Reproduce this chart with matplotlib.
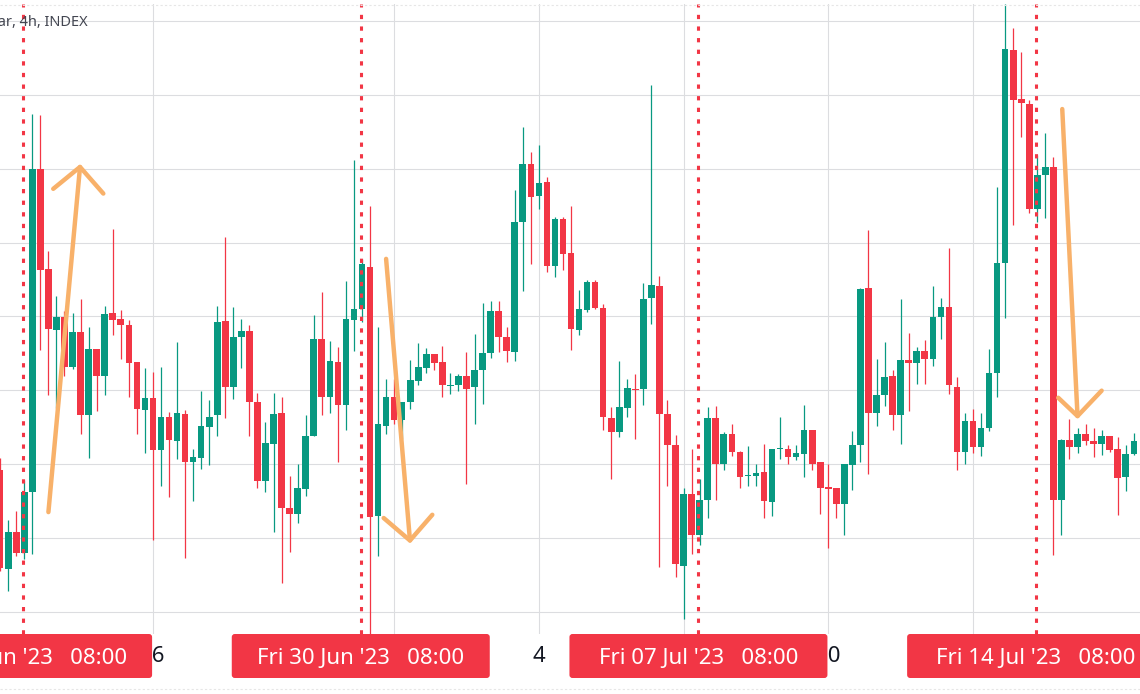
import numpy as np
import pandas as pd
import matplotlib
matplotlib.use("Agg")
import matplotlib.pyplot as plt
from matplotlib.patches import FancyBboxPatch
from matplotlib.transforms import IdentityTransform

plt.rcParams['font.family'] = ['Noto Sans', 'DejaVu Sans']

# 4h candles, first one visible at the left edge
start = "2023-06-22 20:00"

opens = [29981, 29645, 29772, 29700, 29905, 30999, 30660, 30453, 30497, 30329,
         30446, 30166, 30390, 30297, 30511, 30490, 30471, 30345, 30184, 30225,
         30048, 30160, 30077, 30170, 30008, 30022, 30126, 30166, 30486, 30260,
         30431, 30450, 30211, 29942, 30069, 30173, 29852, 29832, 29917, 30094,
         30423, 30229, 30345, 30200, 30488, 30525, 30667, 29825, 30128, 30229,
         30149, 30211, 30280, 30326, 30374, 30345, 30265, 30267, 30297, 30260,
         30318, 30377, 30519, 30430, 30381, 30819, 31015, 30909, 30954, 30670,
         30829, 30715, 30453, 30522, 30616, 30529, 30156, 30108, 30191, 30256,
         30253, 30561, 30602, 30170, 30066, 29656, 29898, 29760, 29880, 30156,
         30001, 30101, 30043, 29959, 29959, 29974, 29873, 30050, 30050, 30025,
         30036, 30115, 30007, 29924, 29919, 29866, 29997, 30066, 30595, 30173,
         30235, 30298, 30167, 30354, 30343, 30384, 30356, 30499, 30532, 30262,
         30043, 30146, 30057, 30122, 30308, 30681, 31403, 31236, 31220, 30865,
         30978, 31006, 29880, 30083, 30059, 30101, 30080, 30069, 30094, 30052,
         29956, 30035]
closes = [29649, 29769, 29700, 29907, 30999, 30656, 30457, 30497, 30329, 30446,
          30166, 30390, 30297, 30508, 30488, 30470, 30343, 30188, 30225, 30048,
          30160, 30083, 30173, 30007, 30025, 30128, 30160, 30483, 30260, 30431,
          30450, 30211, 29942, 30073, 30170, 29852, 29832, 29919, 30097, 30425,
          30229, 30348, 30200, 30490, 30525, 30677, 29820, 30135, 30229, 30149,
          30211, 30285, 30329, 30374, 30343, 30267, 30268, 30297, 30253, 30319,
          30377, 30519, 30430, 30384, 30819, 31017, 30906, 30953, 30670, 30829,
          30713, 30457, 30526, 30616, 30529, 30159, 30110, 30195, 30257, 30251,
          30559, 30605, 30170, 30064, 29662, 29898, 29762, 29880, 30156, 30001,
          30104, 30043, 29956, 29963, 29970, 29877, 30052, 30054, 30025, 30039,
          30115, 30001, 29921, 29917, 29866, 30000, 30066, 30594, 30173, 30235,
          30294, 30167, 30354, 30343, 30384, 30356, 30499, 30532, 30267, 30043,
          30146, 30057, 30124, 30308, 30681, 31406, 31233, 31222, 30865, 30978,
          31006, 29880, 30083, 30059, 30101, 30080, 30069, 30094, 30048, 29952,
          30035, 30080]
highs = [30022, 29811, 29843, 29945, 31185, 31181, 30722, 30568, 30519, 30511,
         30559, 30463, 30390, 30536, 30796, 30522, 30488, 30345, 30325, 30311,
         30329, 30177, 30412, 30184, 30050, 30249, 30218, 30536, 30768, 30533,
         30492, 30471, 30242, 30142, 30242, 30229, 29959, 30001, 30166, 30504,
         30584, 30416, 30398, 30619, 31030, 30695, 30874, 30463, 30290, 30287,
         30211, 30352, 30409, 30394, 30374, 30401, 30308, 30304, 30381, 30442,
         30546, 30553, 30553, 30463, 30927, 31140, 31058, 31082, 30971, 30837,
         30837, 30874, 30591, 30622, 30624, 30543, 30193, 30350, 30287, 30305,
         30615, 31285, 30637, 30218, 30098, 29921, 30052, 29949, 30195, 30198,
         30108, 30135, 30046, 30062, 30001, 30069, 30052, 30160, 30064, 30066,
         30200, 30115, 30007, 30000, 29919, 30000, 30112, 30597, 30794, 30356,
         30412, 30318, 30559, 30443, 30398, 30419, 30602, 30561, 30732, 30294,
         30173, 30186, 30173, 30391, 30939, 31558, 31475, 31395, 31233, 31047,
         31120, 31040, 30087, 30153, 30122, 30135, 30124, 30115, 30097, 30091,
         30066, 30105]
lows = [29638, 29572, 29691, 29680, 29696, 30388, 30235, 30191, 30300, 30322,
        30104, 30022, 30181, 30235, 30439, 30356, 30229, 30101, 30039, 29742,
        29925, 29890, 30018, 29682, 29876, 29983, 29997, 30094, 30156, 30222,
        30326, 30097, 29919, 29907, 29769, 29599, 29703, 29800, 29894, 30094,
        30167, 30174, 30007, 30115, 30384, 30483, 29417, 29691, 30101, 30135,
        30087, 30186, 30267, 30308, 30318, 30229, 30236, 30249, 29932, 30135,
        30204, 30359, 30381, 30345, 30350, 30587, 30677, 30865, 30649, 30635,
        30657, 30388, 30439, 30515, 30526, 30115, 29949, 30091, 30160, 30087,
        30200, 30474, 29652, 29928, 29620, 29475, 29696, 29728, 29818, 29880,
        29981, 30029, 29919, 29928, 29925, 29818, 29825, 30018, 30001, 30015,
        29956, 29979, 29832, 29717, 29818, 29762, 29912, 30007, 29967, 30131,
        30198, 30115, 30070, 30181, 30271, 30271, 30333, 30423, 30239, 29981,
        30001, 30039, 30028, 30112, 30229, 30495, 30808, 31106, 30851, 30819,
        30833, 29693, 29760, 30018, 30039, 30064, 30025, 30032, 30043, 29829,
        29910, 30032]

mark_dates = ["2023-06-23 08:00", "2023-06-30 08:00", "2023-07-07 08:00", "2023-07-14 08:00"]
tick_dates = ["2023-06-26", "2023-07-01", "2023-07-04", "2023-07-07", "2023-07-10", "2023-07-13"]
# labels at Jul 1, 7 and 13 sit fully behind the date boxes, so they are left blank
tick_labels = ["26", "", "4", "", "10", ""]

# hand drawn arrows: (candles after start, price) for tail, tip, left arm, right arm
arrows = [
    [(6.0, 29838), (9.93, 31006), (6.6, 30932), (12.83, 30916)],
    [(48.0, 30695), (50.97, 29742), (47.7, 29818), (53.75, 29829)],
    [(132.1, 31202), (134.0, 30163), (131.6, 30225), (137.0, 30249)],
]

GREEN = "#089981"
RED = "#F23645"
ORANGE = "#F8B16A"

opens = np.array(opens, float)
closes = np.array(closes, float)
highs = np.array(highs, float)
lows = np.array(lows, float)
dates = pd.date_range(start, periods=len(opens), freq="4h")
x = np.arange(len(dates))
pos = {d: i for i, d in enumerate(dates)}

fig = plt.figure(figsize=(11.4, 6.94), dpi=100)
ax = fig.add_axes([0, 60 / 694, 1, 630 / 694])

up = closes >= opens
colors = np.where(up, GREEN, RED)
ax.vlines(x, lows, highs, colors=colors, linewidth=0.9, zorder=2)
body = np.maximum(np.abs(closes - opens), 3.0)
ax.bar(x, body, bottom=np.minimum(opens, closes), width=0.82,
       color=colors, linewidth=0, zorder=3)

ax.set_xlim(-0.022, 141.77)
ax.set_ylim(29425.5, 31557.5)

ax.set_yticks(np.arange(29500, 31750, 250))
ax.set_xticks([pos[pd.Timestamp(d)] for d in tick_dates])
ax.set_xticklabels(tick_labels)
ax.tick_params(length=0, labelleft=False, pad=9, labelsize=16, labelcolor="#131722")
ax.grid(True, color="#DCDDE0", linewidth=0.8, zorder=0)
ax.set_axisbelow(True)
for s in ax.spines.values():
    s.set_visible(False)

mark_x = [pos[pd.Timestamp(d)] for d in mark_dates]
for mx in mark_x:
    ax.axvline(mx - 0.15, color=RED, linestyle=(0, (1.4, 2.4)), linewidth=2.2,
               dash_capstyle="butt", zorder=4)

for tail, tip, la, ra in arrows:
    ax.plot([tail[0], tip[0]], [tail[1], tip[1]], color=ORANGE, linewidth=3.2,
            solid_capstyle="round", zorder=5)
    ax.plot([la[0], tip[0], ra[0]], [la[1], tip[1], ra[1]], color=ORANGE,
            linewidth=3.2, solid_capstyle="round", solid_joinstyle="round", zorder=5)

# date labels on the time axis
fig.canvas.draw()
for mx, d in zip(mark_x, mark_dates):
    ts = pd.Timestamp(d)
    cx = ax.transData.transform((mx - 0.15, 30000))[0]
    fig.add_artist(FancyBboxPatch((cx - 129, 16), 258, 44, transform=IdentityTransform(),
                                  boxstyle="round,pad=0,rounding_size=3",
                                  facecolor=RED, edgecolor="none", zorder=10))
    fig.text(cx, 35, f"{ts:%a %d %b '%y}   {ts:%H:%M}", transform=IdentityTransform(),
             ha="center", va="center", color="white", fontsize=16, zorder=11)

fig.text(88, 672, "Bitcoin / U.S. Dollar, 4h, INDEX", transform=IdentityTransform(),
         ha="right", va="center", fontsize=10.5, color="#434651")
fig.add_artist(plt.Line2D([0, 1], [5 / 694, 5 / 694], color="#E6E6E6",
                          linewidth=0.8, linestyle=(0, (2, 2))))
fig.add_artist(plt.Line2D([0, 1], [689 / 694, 689 / 694], color="#E6E6E6",
                          linewidth=0.8, linestyle=(0, (2, 2))))

fig.savefig("out.png", dpi=100)
